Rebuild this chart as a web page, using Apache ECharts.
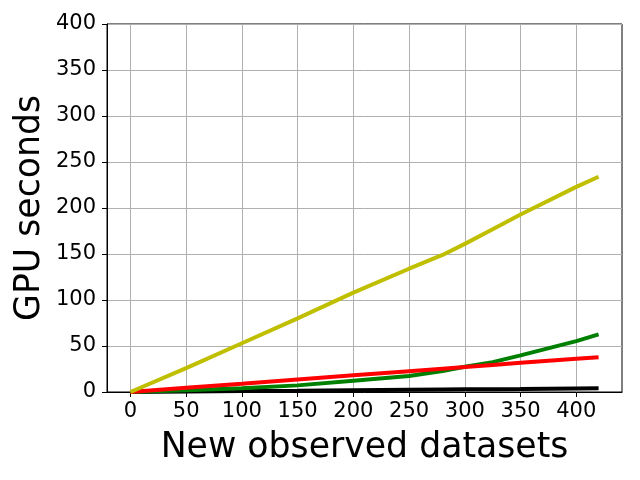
<!DOCTYPE html>
<html>
<head>
<meta charset="utf-8">
<script src="https://cdn.jsdelivr.net/npm/echarts@6/dist/echarts.min.js"></script>
<style>
  html, body { margin: 0; padding: 0; background: #fff; }
  #chart { width: 640px; height: 480px; }
</style>
</head>
<body>
<div id="chart"></div>
<script>
// x positions of the observations
let datasets = [0, 50, 100, 150, 200, 250, 280, 300, 325, 350, 400, 420];
// GPU seconds per method
let yellowVals = [0, 26, 53, 80, 108, 134, 149, 161, 177, 193, 223, 234];
let greenVals = [0, 1.8, 4, 7.2, 12.3, 17.4, 22.8, 27.5, 32.5, 39.8, 55.3, 62.6];
let redVals = [0, 4.5, 9, 13.6, 18.1, 22.6, 25.3, 27.1, 29.4, 31.7, 36.2, 37.9];
let blackVals = [0, 0.5, 1, 1.4, 1.9, 2.4, 2.7, 2.9, 3.1, 3.3, 3.8, 4];
let xTicks = [0, 50, 100, 150, 200, 250, 300, 350, 400];

function pairs(vals) {
  let out = [];
  for (let i = 0; i < datasets.length; i++) {
    out.push([datasets[i], vals[i]]);
  }
  return out;
}

function line(vals, color) {
  return {
    type: "line",
    data: pairs(vals),
    showSymbol: false,
    symbol: "none",
    lineStyle: { color: color, width: 4 },
    itemStyle: { color: color },
    animation: false,
  };
}

var myChart = echarts.init(document.getElementById("chart"));
var font = "DejaVu Sans";

var option = {
  backgroundColor: "#fff",
  grid: {
    left: 107,
    right: 18,
    top: 24,
    bottom: 88,
    show: true,
    borderColor: "#000",
    borderWidth: 1,
  },
  xAxis: {
    type: "value",
    min: -21,
    max: 441,
    name: "New observed datasets",
    nameLocation: "middle",
    nameGap: 38,
    nameMoveOverlap: false,
    nameTextStyle: { fontFamily: font, fontSize: 34.7, color: "#000" },
    axisLine: { show: true, onZero: false, lineStyle: { color: "#000", width: 1 } },
    axisTick: {
      show: true,
      length: 5,
      customValues: xTicks,
      lineStyle: { color: "#000" },
    },
    axisLabel: {
      customValues: xTicks,
      margin: 9,
      fontFamily: font,
      fontSize: 21,
      color: "#000",
    },
    splitLine: { show: true, lineStyle: { color: "#b0b0b0", width: 1 } },
  },
  yAxis: {
    type: "value",
    min: 0,
    max: 400,
    interval: 50,
    name: "GPU seconds",
    nameLocation: "middle",
    nameGap: 60,
    nameMoveOverlap: false,
    nameTextStyle: { fontFamily: font, fontSize: 34.7, color: "#000" },
    axisLine: { show: true, onZero: false, lineStyle: { color: "#000", width: 1 } },
    axisTick: { show: true, length: 5, lineStyle: { color: "#000" } },
    axisLabel: { margin: 11, fontFamily: font, fontSize: 21, color: "#000" },
    splitLine: { show: true, lineStyle: { color: "#b0b0b0", width: 1 } },
  },
  series: [
    line(blackVals, "#000000"),
    line(greenVals, "#008000"),
    line(redVals, "#ff0000"),
    line(yellowVals, "#bfbf00"),
  ],
};

option && myChart.setOption(option);
</script>
</body>
</html>
